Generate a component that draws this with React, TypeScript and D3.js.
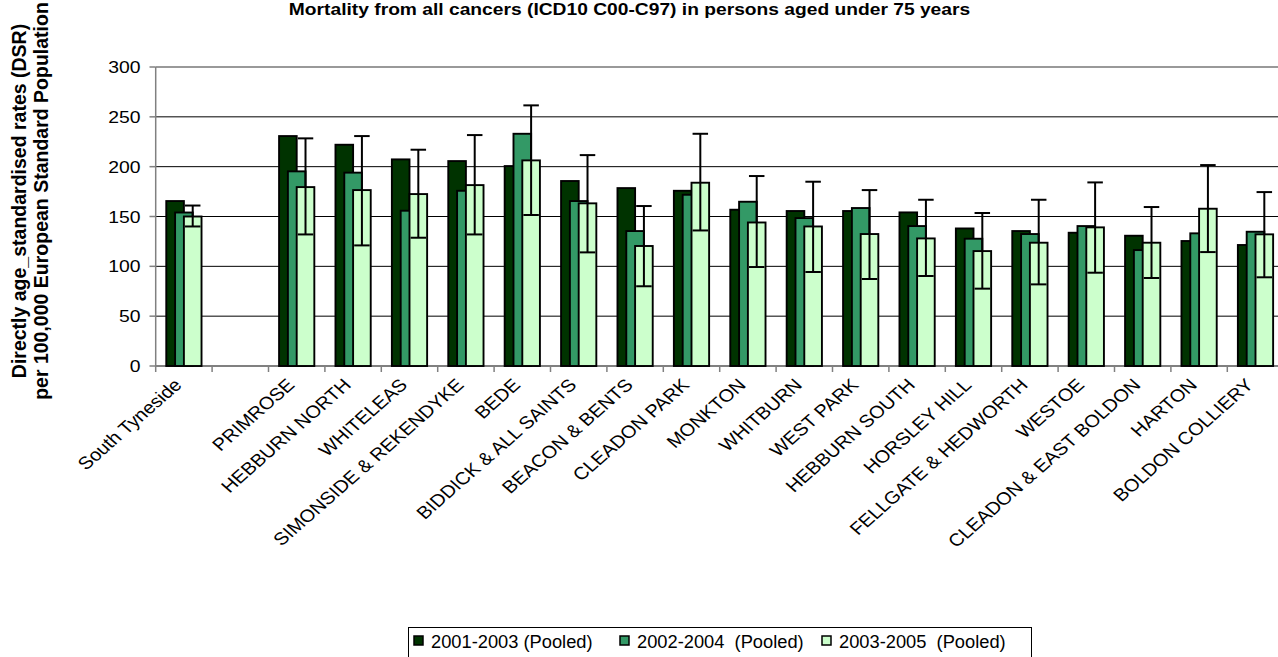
import * as d3 from "d3";

const categories = [
  "South Tyneside",
  "",
  "PRIMROSE",
  "HEBBURN NORTH",
  "WHITELEAS",
  "SIMONSIDE & REKENDYKE",
  "BEDE",
  "BIDDICK & ALL SAINTS",
  "BEACON & BENTS",
  "CLEADON PARK",
  "MONKTON",
  "WHITBURN",
  "WEST PARK",
  "HEBBURN SOUTH",
  "HORSLEY HILL",
  "FELLGATE & HEDWORTH",
  "WESTOE",
  "CLEADON & EAST BOLDON",
  "HARTON",
  "BOLDON COLLIERY",
];

const pooled2001 = [165.5, null, 230.7, 222, 207.3, 205.6, 200.6, 185.6, 178.5, 175.8, 156.8, 155.5, 155.5, 154.1, 138, 135.4, 133.7, 130.7, 125.4, 121.4];
const pooled2002 = [154, null, 195.3, 194, 155.8, 175.8, 233, 165.5, 135.4, 171.8, 164.8, 148.4, 158.5, 140.4, 127.7, 132.4, 140.4, 116.3, 133.1, 134.7];
const pooled2003 = [150, null, 179.5, 176.5, 172.5, 181.5, 206.3, 163.2, 120.4, 183.9, 144, 140, 132.4, 128, 115.3, 123.7, 139.1, 123.7, 157.8, 132.1];
// 95% confidence limits for the 2003-2005 series
const ciLower = [140, null, 132, 121, 128.7, 132, 151.5, 114, 80, 136, 99.3, 94.3, 87.3, 90.3, 77.6, 81.9, 93.6, 88.3, 114.3, 89];
const ciUpper = [161, null, 228.4, 230.7, 217, 231.7, 261.5, 211.6, 160.5, 233, 190.6, 184.9, 176.5, 166.8, 153.5, 166.8, 184.2, 159.5, 201.6, 174.5];

const seriesNames = ["2001-2003 (Pooled)", "2002-2004  (Pooled)", "2003-2005  (Pooled)"];
const seriesColors = ["#003300", "#339966", "#CCFFCC"];
const yTicks = [0, 50, 100, 150, 200, 250, 300];

const W = 1278;
const H = 657;
const FONT = "'Liberation Sans', Arial, sans-serif";
// the original export is a little wider than tall, text looks stretched
const SX = 1.14;

const App = () => {
  const series = [pooled2001, pooled2002, pooled2003];
  const idx = d3.range(categories.length);
  const x = d3.scaleBand<number>().domain(idx).range([155.7, 1283.7]);
  const y = d3.scaleLinear().domain([0, 300]).range([366, 67]);
  const bw = x.bandwidth() / 3.2;
  const step = bw / 2;
  const barX = (i: number, s: number) => (x(i) as number) + x.bandwidth() / 2 - bw + s * step;
  const capW = 15.5;
  const legendX = [414, 620, 822];

  return (
    <svg
      width={W}
      height={H}
      style={{ position: "fixed", left: 0, top: 0, background: "#fff" }}
      fontFamily={FONT}
    >
      <text
        transform={`translate(629.5,15) scale(1.165,1)`}
        textAnchor="middle"
        fontWeight="bold"
        fontSize={16.5}
      >
        Mortality from all cancers (ICD10 C00-C97) in persons aged under 75 years
      </text>

      <g transform="translate(26,201) rotate(-90)" fontWeight="bold" fontSize={19.5} textAnchor="middle">
        <text x={0} y={0}>Directly age_standardised rates (DSR)</text>
        <text x={0} y={22}>per 100,000 European Standard Population</text>
      </g>

      {/* grid */}
      {yTicks.map((t) => (
        <line
          key={t}
          x1={155.7}
          x2={W}
          y1={y(t)}
          y2={y(t)}
          stroke={t === 300 ? "#999" : t === 0 ? "#808080" : "#000"}
          strokeWidth={t === 300 || t === 0 ? 2 : 1}
        />
      ))}
      {yTicks.map((t) => (
        <g key={"yt" + t}>
          <line x1={149.5} x2={155.7} y1={y(t)} y2={y(t)} stroke="#808080" strokeWidth={1.5} />
          <text transform={`translate(140.5,${y(t) + 6})scale(${SX},1)`} textAnchor="end" fontSize={17}>
            {t}
          </text>
        </g>
      ))}
      <line x1={155.7} x2={155.7} y1={y(300)} y2={y(0) + 1} stroke="#808080" strokeWidth={1.5} />
      {d3.range(categories.length + 1).map((i) => {
        const xx = 155.7 + i * x.step();
        return <line key={"xt" + i} x1={xx} x2={xx} y1={y(0)} y2={y(0) + 6} stroke="#808080" strokeWidth={1.5} />;
      })}

      {/* bars */}
      {series.map((vals, s) => (
        <g key={"s" + s}>
          {vals.map((v, i) =>
            v == null ? null : (
              <rect
                key={i}
                x={barX(i, s)}
                y={y(v)}
                width={bw}
                height={y(0) - y(v)}
                fill={seriesColors[s]}
                stroke="#000"
                strokeWidth={1.9}
              />
            )
          )}
        </g>
      ))}

      {/* error bars */}
      {ciLower.map((lo, i) => {
        const hi = ciUpper[i];
        if (lo == null || hi == null) return null;
        const cx = barX(i, 2) + bw / 2;
        return (
          <g key={"e" + i} stroke="#000" strokeWidth={2}>
            <line x1={cx} x2={cx} y1={y(lo)} y2={y(hi)} />
            <line x1={cx - capW / 2} x2={cx + capW / 2} y1={y(hi)} y2={y(hi)} />
            <line x1={cx - capW / 2} x2={cx + capW / 2} y1={y(lo)} y2={y(lo)} />
          </g>
        );
      })}

      {/* category labels */}
      {categories.map((c, i) => {
        const cx = (x(i) as number) + x.bandwidth() / 2;
        return (
          <text
            key={"c" + i}
            transform={`translate(${cx - 1},${386}) scale(${SX},1) rotate(-45)`}
            textAnchor="end"
            fontSize={17.5}
          >
            {c}
          </text>
        );
      })}

      {/* legend */}
      <rect x={408.5} y={627.5} width={623} height={40} fill="#fff" stroke="#000" strokeWidth={1} />
      {seriesNames.map((n, s) => (
        <g key={"l" + s}>
          <rect x={legendX[s]} y={636} width={9} height={9} fill={seriesColors[s]} stroke="#000" strokeWidth={1.5} />
          <text x={legendX[s] + 17} y={648} fontSize={18.3} style={{ whiteSpace: "pre" }}>
            {n}
          </text>
        </g>
      ))}
    </svg>
  );
};

export default App;
